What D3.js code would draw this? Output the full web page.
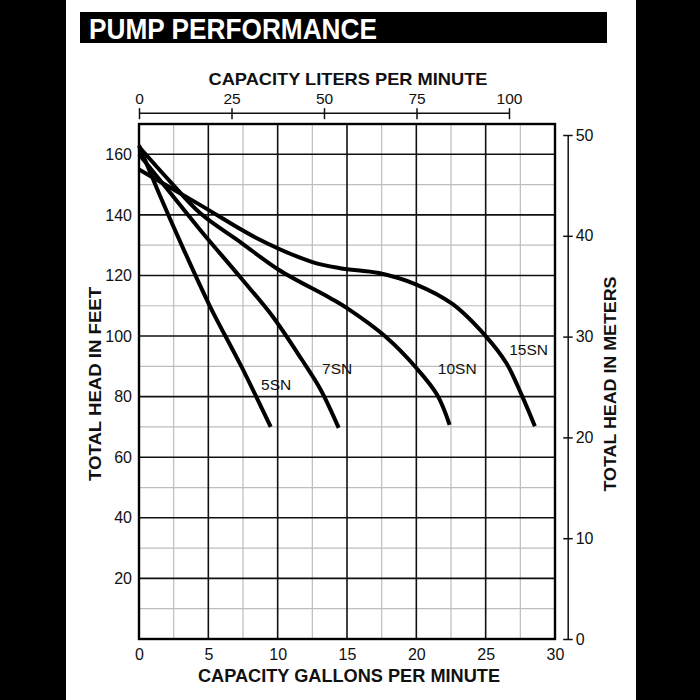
<!DOCTYPE html>
<html><head><meta charset="utf-8">
<script src="https://cdn.jsdelivr.net/npm/d3@7"></script>
<style>html,body{margin:0;padding:0;background:#fff;}</style>
</head><body>
<svg id="c" width="700" height="700"></svg>
<script>
const seriesNames = ["5SN", "7SN", "10SN", "15SN"];
const gpm5SN  = [0, 1.5, 3.2, 5.1, 7.4, 9.5];
const ft5SN   = [163, 146.5, 128.8, 110, 89.8, 70];
const gpm7SN  = [0, 2.25, 4.4, 7.4, 9.6, 11.7, 13.1, 14.4];
const ft7SN   = [160, 147.3, 135.1, 118.9, 106.7, 92.5, 82.3, 69.7];
const gpm10SN = [0, 2.25, 4.4, 7.4, 10.1, 13.8, 15, 17.75, 20.05, 21.5, 22.4];
const ft10SN  = [162.5, 151, 140.6, 130.7, 121.8, 112.5, 109.2, 99.9, 89.2, 80.6, 70.7];
const gpm15SN = [0, 4.4, 8.5, 12.4, 14.5, 17.3, 20, 22.6, 25, 26.5, 27.6, 28.55];
const ft15SN  = [155, 143.3, 132.3, 124.6, 122.4, 120.8, 117, 110.6, 100, 91, 80.5, 70.2];
// label anchor (gpm, ft) for each series name
const labelGpm = [8.8, 13.2, 21.55, 26.7];
const labelFt  = [82.2, 87.5, 87.5, 93.8];
const gpmTicks = [0, 5, 10, 15, 20, 25, 30];
const feetTicks = [20, 40, 60, 80, 100, 120, 140, 160];
const literTicks = [0, 25, 50, 75, 100];
const meterTicks = [0, 10, 20, 30, 40, 50];

const svg = d3.select("#c");
const FONT = "'Liberation Sans', Arial, Helvetica, sans-serif";

// page frame
svg.append("rect").attr("x",0).attr("y",0).attr("width",66).attr("height",700).attr("fill","#000");
svg.append("rect").attr("x",636).attr("y",0).attr("width",64).attr("height",700).attr("fill","#000");
svg.append("rect").attr("x",80).attr("y",12).attr("width",527).attr("height",31).attr("fill","#000");
svg.append("text").attr("x",89).attr("y",38.5)
  .attr("font-family","'Liberation Sans Narrow', 'Liberation Sans', Arial, sans-serif")
  .attr("font-weight","bold").attr("font-size",30).attr("fill","#fff")
  .attr("textLength",288).attr("lengthAdjust","spacingAndGlyphs")
  .text("PUMP PERFORMANCE");

const x = d3.scaleLinear().domain([0,30]).range([139,555]);
const y = d3.scaleLinear().domain([0,170]).range([639,124]);
const xL = d3.scaleLinear().domain([0,100]).range([139,509]);
const yM = d3.scaleLinear().domain([0,50]).range([639,135]);

// grid
const g = svg.append("g");
d3.range(2.5, 30, 5).forEach(v => g.append("line").attr("x1",x(v)).attr("x2",x(v)).attr("y1",y(170)).attr("y2",y(0)).attr("stroke","#bdbdbd").attr("stroke-width",1.2));
d3.range(10, 170, 20).forEach(v => g.append("line").attr("x1",x(0)).attr("x2",x(30)).attr("y1",y(v)).attr("y2",y(v)).attr("stroke","#bdbdbd").attr("stroke-width",1.2));
d3.range(5, 30, 5).forEach(v => g.append("line").attr("x1",x(v)).attr("x2",x(v)).attr("y1",y(170)).attr("y2",y(0)).attr("stroke","#111").attr("stroke-width",1.6));
d3.range(20, 170, 20).forEach(v => g.append("line").attr("x1",x(0)).attr("x2",x(30)).attr("y1",y(v)).attr("y2",y(v)).attr("stroke","#111").attr("stroke-width",1.6));
g.append("rect").attr("x",x(0)).attr("y",y(170)).attr("width",x(30)-x(0)).attr("height",y(0)-y(170))
  .attr("fill","none").attr("stroke","#000").attr("stroke-width",2.4);

// left axis labels
const la = svg.append("g").attr("transform",`translate(${x(0)},0)`)
  .call(d3.axisLeft(y).tickValues(feetTicks).tickSize(0).tickPadding(7));
la.select(".domain").remove();
la.selectAll("text").attr("font-family",FONT).attr("font-size",16).attr("fill","#111");

// bottom axis labels
const ba = svg.append("g").attr("transform",`translate(0,${y(0)})`)
  .call(d3.axisBottom(x).tickValues(gpmTicks).tickSize(0).tickPadding(9.5));
ba.select(".domain").remove();
ba.selectAll("text").attr("font-family",FONT).attr("font-size",16).attr("fill","#111");

// top axis (liters)
const ta = svg.append("g").attr("transform","translate(0,112.7)")
  .call(d3.axisTop(xL).tickValues(literTicks).tickSizeInner(-6.5).tickSizeOuter(0).tickPadding(9));
ta.select(".domain").attr("stroke","#111").attr("stroke-width",1.5);
ta.selectAll(".tick line").attr("y1",-4.5).attr("stroke","#111").attr("stroke-width",1.5);
ta.selectAll("text").attr("font-family",FONT).attr("font-size",15.5).attr("fill","#111");

// right axis (meters)
const ra = svg.append("g").attr("transform","translate(567.7,0)")
  .call(d3.axisRight(yM).tickValues(meterTicks).tickSizeInner(5).tickSizeOuter(0).tickPadding(3));
ra.select(".domain").attr("stroke","#111").attr("stroke-width",1.5);
ra.selectAll(".tick line").attr("x1",-4.5).attr("stroke","#111").attr("stroke-width",1.5);
ra.selectAll("text").attr("font-family",FONT).attr("font-size",16).attr("fill","#111");

// axis titles
svg.append("text").attr("x",348).attr("y",84.5).attr("text-anchor","middle")
  .attr("font-family",FONT).attr("font-weight","bold").attr("font-size",17)
  .attr("textLength",279).attr("lengthAdjust","spacingAndGlyphs").attr("fill","#111")
  .text("CAPACITY LITERS PER MINUTE");
svg.append("text").attr("x",349).attr("y",682).attr("text-anchor","middle")
  .attr("font-family",FONT).attr("font-weight","bold").attr("font-size",18.5)
  .attr("textLength",302).attr("lengthAdjust","spacingAndGlyphs").attr("fill","#111")
  .text("CAPACITY GALLONS PER MINUTE");
svg.append("text").attr("transform","translate(101,384) rotate(-90)").attr("text-anchor","middle")
  .attr("font-family",FONT).attr("font-weight","bold").attr("font-size",16)
  .attr("textLength",194).attr("lengthAdjust","spacingAndGlyphs").attr("fill","#111")
  .text("TOTAL HEAD IN FEET");
svg.append("text").attr("transform","translate(616,384) rotate(-90)").attr("text-anchor","middle")
  .attr("font-family",FONT).attr("font-weight","bold").attr("font-size",16)
  .attr("textLength",215).attr("lengthAdjust","spacingAndGlyphs").attr("fill","#111")
  .text("TOTAL HEAD IN METERS");

// curves
const series = [
  {name: seriesNames[0], xs: gpm5SN, ys: ft5SN},
  {name: seriesNames[1], xs: gpm7SN, ys: ft7SN},
  {name: seriesNames[2], xs: gpm10SN, ys: ft10SN},
  {name: seriesNames[3], xs: gpm15SN, ys: ft15SN}
];
const line = d3.line().x(d => x(d[0])).y(d => y(d[1])).curve(d3.curveCatmullRom.alpha(0.5));
series.forEach((s, i) => {
  const pts = s.xs.map((v, j) => [v, s.ys[j]]);
  svg.append("path").attr("d", line(pts)).attr("fill","none").attr("stroke","#000")
    .attr("stroke-width",4).attr("stroke-linecap","butt").attr("stroke-linejoin","round");
  svg.append("text").attr("x", x(labelGpm[i])).attr("y", y(labelFt[i]))
    .attr("font-family",FONT).attr("font-size",15.5).attr("fill","#111").text(s.name);
});
</script>
</body></html>
